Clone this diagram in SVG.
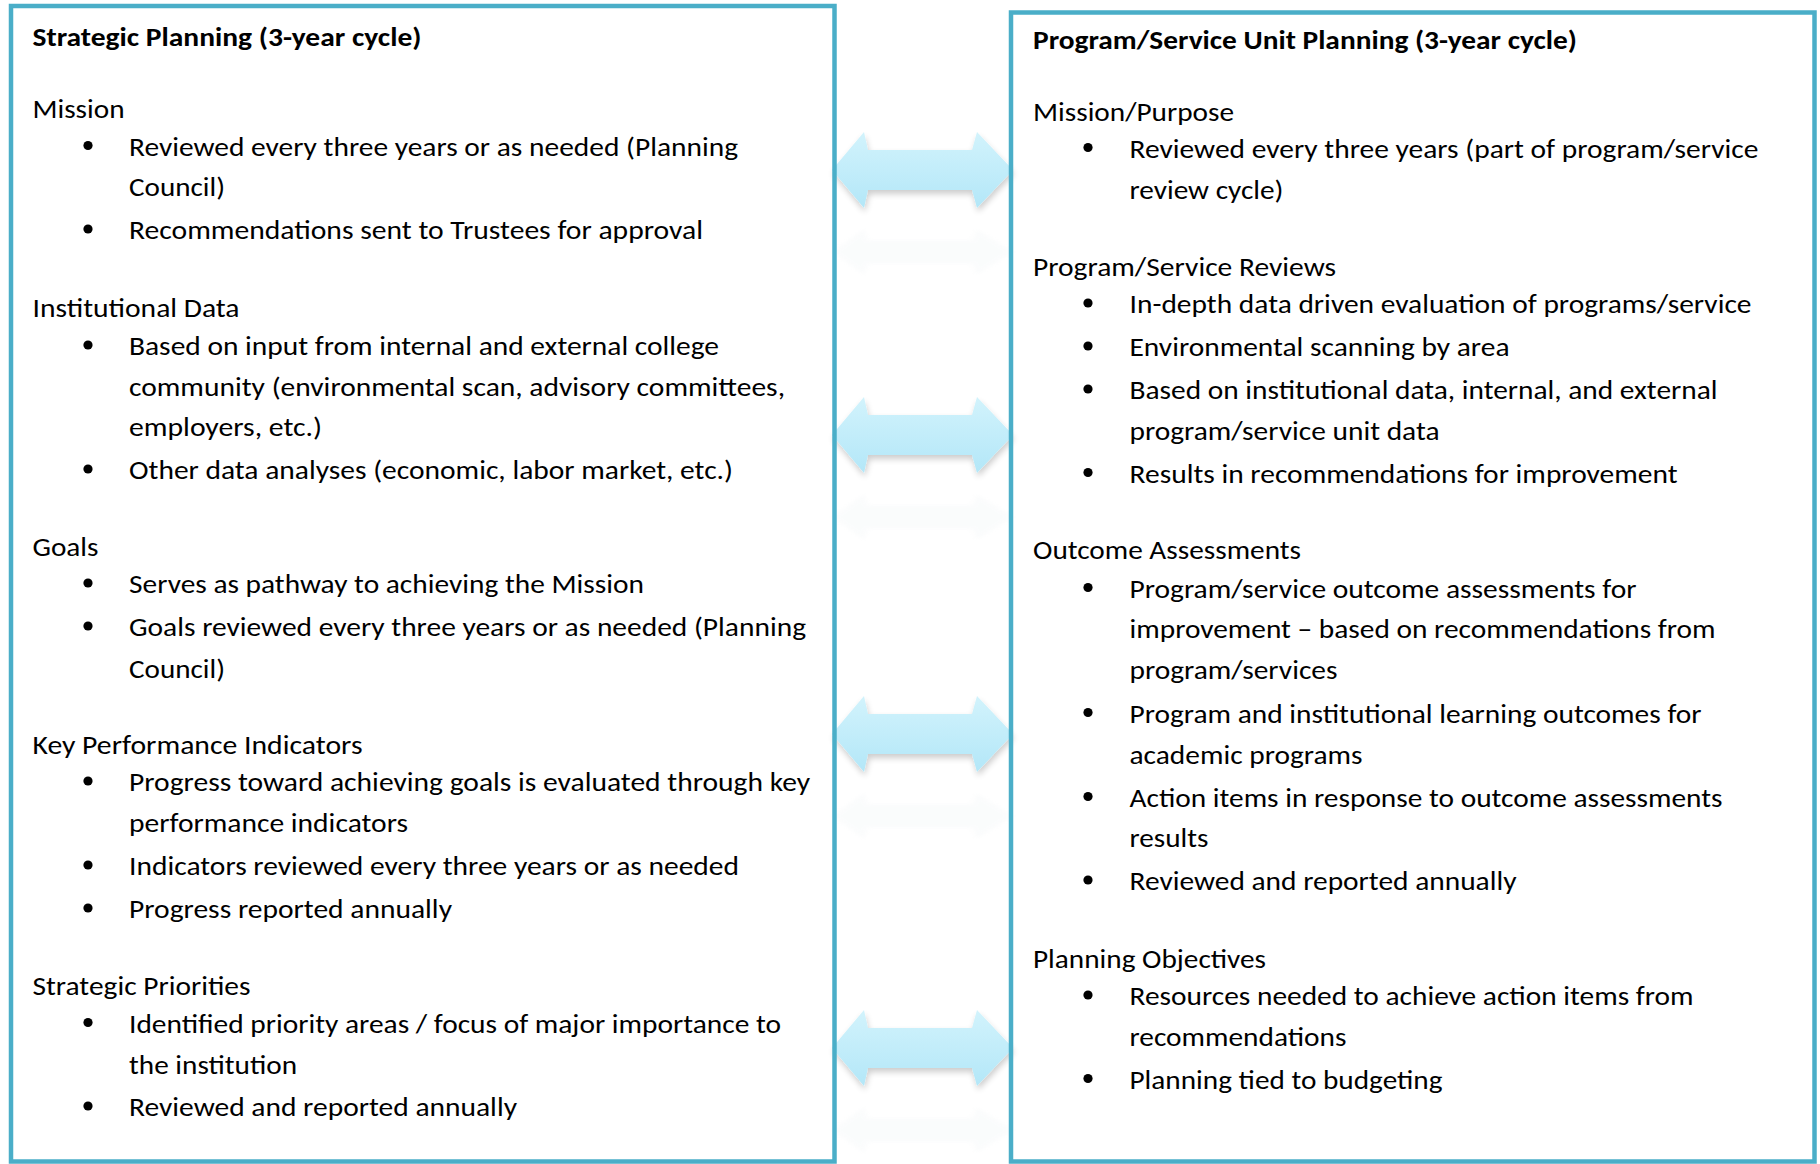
<svg xmlns="http://www.w3.org/2000/svg" width="1820" height="1164" viewBox="0 0 1820 1164">
<style>
.box{fill:none;stroke:#4aaec8;stroke-width:4.5}
.t{font-family:Carlito,Calibri,Lato,"Liberation Sans",sans-serif;font-size:26px;fill:#000}
.b{font-weight:bold}
.dot{fill:#000}
.arr{fill:url(#ag);filter:url(#sh)}
.refl{fill:#c8d8dd;opacity:0.07;filter:url(#bl)}
</style>
<defs>
<linearGradient id="ag" x1="0" y1="0" x2="0" y2="1">
<stop offset="0" stop-color="#d2f3fc"/>
<stop offset="1" stop-color="#b3e7f8"/>
</linearGradient>
<filter id="sh" x="-20%" y="-40%" width="140%" height="190%">
<feGaussianBlur in="SourceAlpha" stdDeviation="3"/>
<feOffset dx="1" dy="4"/>
<feComponentTransfer><feFuncA type="linear" slope="0.2"/></feComponentTransfer>
<feMerge><feMergeNode/><feMergeNode in="SourceGraphic"/></feMerge>
</filter>
<filter id="bl"><feGaussianBlur stdDeviation="2.5"/></filter>
<path id="dArrow" d="M832,0 L864,-38 L868,-20 L972,-20 L977,-38 L1013,0 L977,38 L972,20 L868,20 L864,38 Z"/>
</defs>
<rect width="1820" height="1164" fill="#fff"/>

<g id="connectors">
<g transform="translate(0,170)"><use href="#dArrow" class="arr"/><use href="#dArrow" class="refl" transform="translate(0,82) scale(1,-0.6)"/></g>
<g transform="translate(0,435)"><use href="#dArrow" class="arr"/><use href="#dArrow" class="refl" transform="translate(0,82) scale(1,-0.6)"/></g>
<g transform="translate(0,734)"><use href="#dArrow" class="arr"/><use href="#dArrow" class="refl" transform="translate(0,82) scale(1,-0.6)"/></g>
<g transform="translate(0,1048)"><use href="#dArrow" class="arr"/><use href="#dArrow" class="refl" transform="translate(0,82) scale(1,-0.6)"/></g>
</g>

<g id="strategic-planning">
<rect class="box" x="11" y="6" width="823.5" height="1155.5"/>
<text class="t b" x="32.5" y="46" textLength="389" lengthAdjust="spacingAndGlyphs">Strategic Planning (3-year cycle)</text>
<text class="t" x="32.5" y="118" textLength="92" lengthAdjust="spacingAndGlyphs">Mission</text>
<circle class="dot" cx="88" cy="145.5" r="4.6"/>
<text class="t" x="129" y="155.5" textLength="609" lengthAdjust="spacingAndGlyphs">Reviewed every three years or as needed (Planning</text>
<text class="t" x="129" y="196" textLength="96" lengthAdjust="spacingAndGlyphs">Council)</text>
<circle class="dot" cx="88" cy="229" r="4.6"/>
<text class="t" x="129" y="239" textLength="574" lengthAdjust="spacingAndGlyphs">Recommendations sent to Trustees for approval</text>

<text class="t" x="32.5" y="316.5" textLength="207" lengthAdjust="spacingAndGlyphs">Institutional Data</text>
<circle class="dot" cx="88" cy="345" r="4.6"/>
<text class="t" x="129" y="355" textLength="590" lengthAdjust="spacingAndGlyphs">Based on input from internal and external college</text>
<text class="t" x="129" y="395.5" textLength="656" lengthAdjust="spacingAndGlyphs">community (environmental scan, advisory committees,</text>
<text class="t" x="129" y="436" textLength="193" lengthAdjust="spacingAndGlyphs">employers, etc.)</text>
<circle class="dot" cx="88" cy="469" r="4.6"/>
<text class="t" x="129" y="479" textLength="604" lengthAdjust="spacingAndGlyphs">Other data analyses (economic, labor market, etc.)</text>

<text class="t" x="32.5" y="555.5" textLength="66" lengthAdjust="spacingAndGlyphs">Goals</text>
<circle class="dot" cx="88" cy="583" r="4.6"/>
<text class="t" x="129" y="593" textLength="515" lengthAdjust="spacingAndGlyphs">Serves as pathway to achieving the Mission</text>
<circle class="dot" cx="88" cy="626" r="4.6"/>
<text class="t" x="129" y="636" textLength="677" lengthAdjust="spacingAndGlyphs">Goals reviewed every three years or as needed (Planning</text>
<text class="t" x="129" y="677.5" textLength="96" lengthAdjust="spacingAndGlyphs">Council)</text>

<text class="t" x="32.5" y="754" textLength="330" lengthAdjust="spacingAndGlyphs">Key Performance Indicators</text>
<circle class="dot" cx="88" cy="781" r="4.6"/>
<text class="t" x="129" y="791" textLength="681" lengthAdjust="spacingAndGlyphs">Progress toward achieving goals is evaluated through key</text>
<text class="t" x="129" y="832" textLength="279" lengthAdjust="spacingAndGlyphs">performance indicators</text>
<circle class="dot" cx="88" cy="865" r="4.6"/>
<text class="t" x="129" y="875" textLength="610" lengthAdjust="spacingAndGlyphs">Indicators reviewed every three years or as needed</text>
<circle class="dot" cx="88" cy="908" r="4.6"/>
<text class="t" x="129" y="918" textLength="323" lengthAdjust="spacingAndGlyphs">Progress reported annually</text>

<text class="t" x="32.5" y="994.5" textLength="218" lengthAdjust="spacingAndGlyphs">Strategic Priorities</text>
<circle class="dot" cx="88" cy="1022.5" r="4.6"/>
<text class="t" x="129" y="1032.5" textLength="652" lengthAdjust="spacingAndGlyphs">Identified priority areas / focus of major importance to</text>
<text class="t" x="129" y="1073.5" textLength="168" lengthAdjust="spacingAndGlyphs">the institution</text>
<circle class="dot" cx="88" cy="1106" r="4.6"/>
<text class="t" x="129" y="1116" textLength="388" lengthAdjust="spacingAndGlyphs">Reviewed and reported annually</text>
</g>

<g id="program-service-planning">
<rect class="box" x="1011" y="12.5" width="803.5" height="1149"/>
<text class="t b" x="1033" y="48.5" textLength="544" lengthAdjust="spacingAndGlyphs">Program/Service Unit Planning (3-year cycle)</text>
<text class="t" x="1033" y="120.5" textLength="201" lengthAdjust="spacingAndGlyphs">Mission/Purpose</text>
<circle class="dot" cx="1088" cy="147.5" r="4.6"/>
<text class="t" x="1129.5" y="157.5" textLength="629" lengthAdjust="spacingAndGlyphs">Reviewed every three years (part of program/service</text>
<text class="t" x="1129.5" y="199" textLength="154" lengthAdjust="spacingAndGlyphs">review cycle)</text>

<text class="t" x="1033" y="276" textLength="303" lengthAdjust="spacingAndGlyphs">Program/Service Reviews</text>
<circle class="dot" cx="1088" cy="303" r="4.6"/>
<text class="t" x="1129.5" y="313" textLength="622" lengthAdjust="spacingAndGlyphs">In-depth data driven evaluation of programs/service</text>
<circle class="dot" cx="1088" cy="346" r="4.6"/>
<text class="t" x="1129.5" y="356" textLength="380" lengthAdjust="spacingAndGlyphs">Environmental scanning by area</text>
<circle class="dot" cx="1088" cy="389" r="4.6"/>
<text class="t" x="1129.5" y="399" textLength="588" lengthAdjust="spacingAndGlyphs">Based on institutional data, internal, and external</text>
<text class="t" x="1129.5" y="439.5" textLength="310" lengthAdjust="spacingAndGlyphs">program/service unit data</text>
<circle class="dot" cx="1088" cy="472.5" r="4.6"/>
<text class="t" x="1129.5" y="482.5" textLength="548" lengthAdjust="spacingAndGlyphs">Results in recommendations for improvement</text>

<text class="t" x="1033" y="559" textLength="268" lengthAdjust="spacingAndGlyphs">Outcome Assessments</text>
<circle class="dot" cx="1088" cy="587.5" r="4.6"/>
<text class="t" x="1129.5" y="597.5" textLength="507" lengthAdjust="spacingAndGlyphs">Program/service outcome assessments for</text>
<text class="t" x="1129.5" y="638" textLength="586" lengthAdjust="spacingAndGlyphs">improvement – based on recommendations from</text>
<text class="t" x="1129.5" y="678.5" textLength="208" lengthAdjust="spacingAndGlyphs">program/services</text>
<circle class="dot" cx="1088" cy="712.5" r="4.6"/>
<text class="t" x="1129.5" y="722.5" textLength="572" lengthAdjust="spacingAndGlyphs">Program and institutional learning outcomes for</text>
<text class="t" x="1129.5" y="763.5" textLength="233" lengthAdjust="spacingAndGlyphs">academic programs</text>
<circle class="dot" cx="1088" cy="796.5" r="4.6"/>
<text class="t" x="1129.5" y="806.5" textLength="593" lengthAdjust="spacingAndGlyphs">Action items in response to outcome assessments</text>
<text class="t" x="1129.5" y="847" textLength="79" lengthAdjust="spacingAndGlyphs">results</text>
<circle class="dot" cx="1088" cy="880" r="4.6"/>
<text class="t" x="1129.5" y="890" textLength="387" lengthAdjust="spacingAndGlyphs">Reviewed and reported annually</text>

<text class="t" x="1033" y="967.5" textLength="233" lengthAdjust="spacingAndGlyphs">Planning Objectives</text>
<circle class="dot" cx="1088" cy="995" r="4.6"/>
<text class="t" x="1129.5" y="1005" textLength="564" lengthAdjust="spacingAndGlyphs">Resources needed to achieve action items from</text>
<text class="t" x="1129.5" y="1045.5" textLength="217" lengthAdjust="spacingAndGlyphs">recommendations</text>
<circle class="dot" cx="1088" cy="1078.5" r="4.6"/>
<text class="t" x="1129.5" y="1088.5" textLength="313" lengthAdjust="spacingAndGlyphs">Planning tied to budgeting</text>
</g>
</svg>
